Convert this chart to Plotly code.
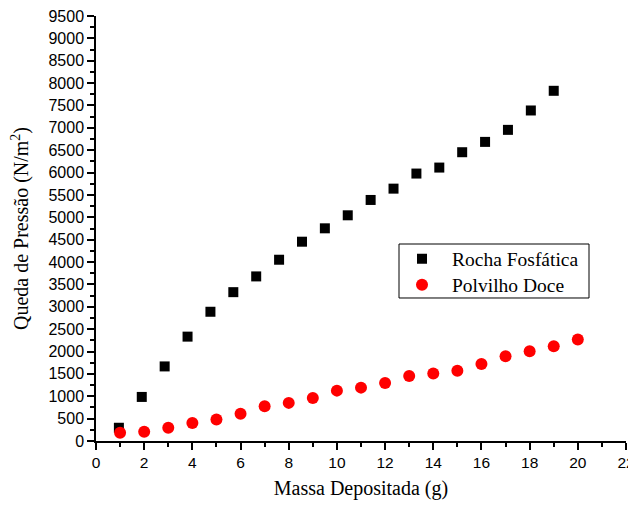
import plotly.graph_objects as go

# Rocha Fosfática (black squares)
rocha_x = [0.95, 1.90, 2.85, 3.80, 4.75, 5.70, 6.65, 7.60, 8.55, 9.50,
           10.45, 11.40, 12.35, 13.30, 14.25, 15.20, 16.15, 17.10, 18.05, 19.00]
rocha_y = [296, 985, 1667, 2333, 2889, 3327, 3679, 4052, 4455, 4754,
           5045, 5388, 5641, 5978, 6112, 6455, 6686, 6955, 7388, 7828]

# Polvilho Doce (red circles)
polv_x = [1, 2, 3, 4, 5, 6, 7, 8, 9, 10, 11, 12, 13, 14, 15, 16, 17, 18, 19, 20]
polv_y = [185, 207, 296, 400, 481, 607, 778, 852, 963, 1126,
          1193, 1296, 1452, 1511, 1570, 1719, 1896, 2007, 2119, 2267]

x_ticks = list(range(0, 23, 2))
y_ticks = list(range(0, 9501, 500))

serif = "Times New Roman, Liberation Serif, serif"
sans = "Arial, Liberation Sans, sans-serif"

fig = go.Figure()
fig.add_trace(go.Scatter(x=rocha_x, y=rocha_y, mode="markers", name="Rocha Fosfática",
                         marker=dict(symbol="square", size=10, color="black"), legend="legend"))
fig.add_trace(go.Scatter(x=polv_x, y=polv_y, mode="markers", name="Polvilho Doce",
                         marker=dict(symbol="circle", size=12, color="#ff0000"), legend="legend2"))

axis_common = dict(showline=True, linecolor="black", linewidth=1.5, ticks="outside",
                   ticklen=7, tickwidth=1.5, tickcolor="black", showgrid=False,
                   zeroline=False, mirror=False, ticklabeloverflow="allow")

fig.update_xaxes(range=[0, 22], tickvals=x_ticks, **axis_common,
                 tickfont=dict(family=sans, size=15.5, color="black"),
                 minor=dict(ticks="outside", ticklen=4, tickwidth=1.5, tickcolor="black", dtick=1, tick0=0),
                 title=dict(text="Massa Depositada (g)", font=dict(family=serif, size=20, color="black"), standoff=17))
fig.update_yaxes(range=[0, 9500], tickvals=y_ticks, **axis_common,
                 tickfont=dict(family=sans, size=16, color="black"),
                 minor=dict(ticks="outside", ticklen=4, tickwidth=1.5, tickcolor="black", dtick=250, tick0=0),
                 title=dict(text="Queda de Pressão (N/m<sup>2</sup>)", font=dict(family=serif, size=20, color="black"), standoff=14))

leg_common = dict(xanchor="left", yanchor="middle", borderwidth=0, bgcolor="rgba(0,0,0,0)",
                  font=dict(family=serif, size=19.5, color="black"), itemwidth=50)

fig.update_layout(
    width=628, height=492,
    margin=dict(l=88, r=10, t=8, b=59, autoexpand=False),
    plot_bgcolor="white", paper_bgcolor="white",
    showlegend=True,
    legend=dict(x=0.5585, y=0.4282, **leg_common),
    legend2=dict(x=0.5585, y=0.3671, **leg_common),
    shapes=[dict(type="rect", xref="paper", yref="paper", x0=0.5717, x1=0.9302, y0=0.3365, y1=0.4635,
                 line=dict(color="black", width=1), fillcolor="rgba(0,0,0,0)", layer="below")],
)

fig.write_html("out.html")
